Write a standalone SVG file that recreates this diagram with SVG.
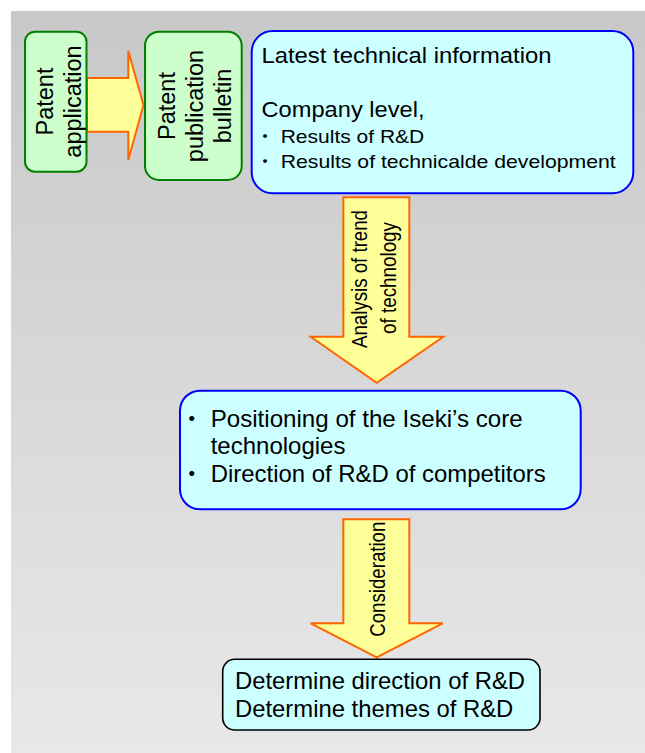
<svg xmlns="http://www.w3.org/2000/svg" width="645" height="753" viewBox="0 0 645 753">
<defs>
<linearGradient id="bg" x1="0" y1="0" x2="0" y2="1">
<stop offset="0" stop-color="#c8c8c8"/>
<stop offset="1" stop-color="#e8e8e8"/>
</linearGradient>
<style>
text{font-family:"Liberation Sans",Arial,"Noto Sans CJK JP",sans-serif;fill:#000}
.green{fill:#ccffcc;stroke:#008000;stroke-width:2}
.blue{fill:#ccffff;stroke:#0000ff;stroke-width:2}
.black{fill:#ccffff;stroke:#000;stroke-width:1.6}
.arrow{fill:#ffff99;stroke:#ff6600;stroke-width:2;stroke-linejoin:miter}
.vt{font-size:23.5px;text-anchor:middle}
.at{font-size:22px;text-anchor:middle}
.b{font-family:"Noto Sans CJK JP",sans-serif;text-anchor:middle}
</style>
</defs>
<rect x="11" y="11" width="634" height="742" fill="url(#bg)"/>

<g id="connectors">
<polygon class="arrow" points="87,78 128.3,78 128.3,51 143.5,105 128.3,160 128.3,131.7 87,131.7"/>
<g id="arrow-analysis">
<polygon class="arrow" points="343.3,197.3 409.3,197.3 409.3,336.7 443.3,336.7 376.7,382.7 310.7,336.7 343.3,336.7"/>
<text class="at" transform="translate(366.5,279) rotate(-90)" textLength="138" lengthAdjust="spacingAndGlyphs">Analysis of trend</text>
<text class="at" transform="translate(396,278) rotate(-90)" textLength="112" lengthAdjust="spacingAndGlyphs">of technology</text>
</g>
<g id="arrow-consideration">
<polygon class="arrow" points="343.3,519.3 409.3,519.3 409.3,623.3 442.7,623.3 376.7,657.3 310.7,623.3 343.3,623.3"/>
<text class="at" transform="translate(385,579.2) rotate(-90)" textLength="115" lengthAdjust="spacingAndGlyphs">Consideration</text>
</g>
</g>

<g id="patent-application">
<rect class="green" x="25" y="31.7" width="61.5" height="140" rx="10"/>
<text class="vt" transform="translate(53,101.5) rotate(-90)">Patent</text>
<text class="vt" transform="translate(81,101.5) rotate(-90)">application</text>
</g>

<g id="patent-publication-bulletin">
<rect class="green" x="145" y="31.7" width="96.7" height="148.3" rx="14"/>
<text class="vt" transform="translate(175,106) rotate(-90)">Patent</text>
<text class="vt" transform="translate(203,106) rotate(-90)">publication</text>
<text class="vt" transform="translate(231,106) rotate(-90)">bulletin</text>
</g>

<g id="latest-info">
<rect class="blue" x="251.7" y="31" width="381.6" height="162.3" rx="21"/>
<text x="261.5" y="63" font-size="22.5" textLength="290" lengthAdjust="spacingAndGlyphs">Latest technical information</text>
<text x="261.5" y="117" font-size="22.5" textLength="163" lengthAdjust="spacingAndGlyphs">Company level,</text>
<text class="b" x="265" y="142.5" font-size="18">・</text>
<text x="280.7" y="142.5" font-size="19" textLength="143.6" lengthAdjust="spacingAndGlyphs">Results of R&amp;D</text>
<text class="b" x="265" y="167.5" font-size="18">・</text>
<text x="280.7" y="167.5" font-size="19" textLength="335" lengthAdjust="spacingAndGlyphs">Results of technicalde development</text>
</g>

<g id="positioning">
<rect class="blue" x="180" y="390.7" width="400.7" height="118.6" rx="20"/>
<text class="b" x="191.7" y="427" font-size="24">・</text>
<text x="210.7" y="426.7" font-size="24" textLength="312" lengthAdjust="spacingAndGlyphs">Positioning of the Iseki’s core</text>
<text x="210.7" y="454" font-size="24">technologies</text>
<text class="b" x="191.7" y="482" font-size="24">・</text>
<text x="210.7" y="481.7" font-size="24" textLength="335" lengthAdjust="spacingAndGlyphs">Direction of R&amp;D of competitors</text>
</g>

<g id="determine">
<rect class="black" x="222.7" y="659.3" width="317.3" height="70.7" rx="12"/>
<text x="235" y="689.3" font-size="24" textLength="290" lengthAdjust="spacingAndGlyphs">Determine direction of R&amp;D</text>
<text x="235" y="717.3" font-size="24" textLength="278.3" lengthAdjust="spacingAndGlyphs">Determine themes of R&amp;D</text>
</g>
</svg>
